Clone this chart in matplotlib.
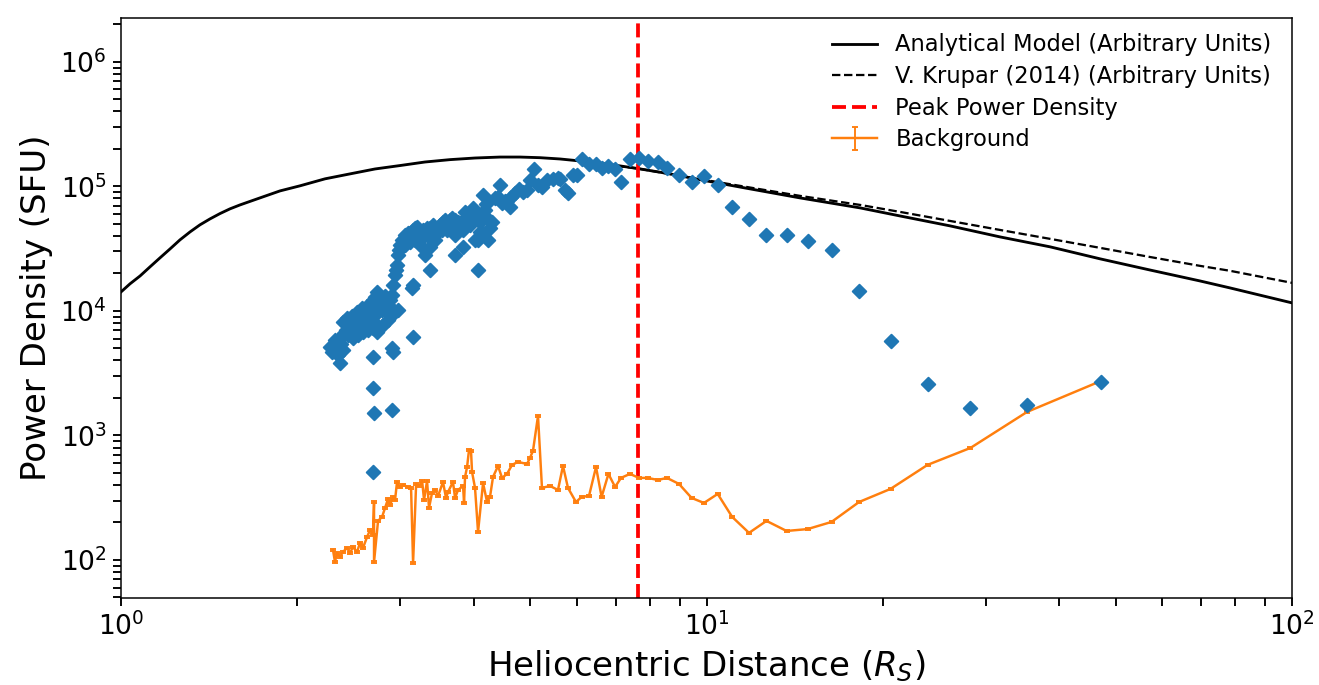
import numpy as np
import matplotlib
matplotlib.use("Agg")
import matplotlib.pyplot as plt
from matplotlib.ticker import LogLocator, NullFormatter

# ---- Analytical model ----
model_r = [1.0, 1.036, 1.078, 1.121, 1.166, 1.213, 1.261, 1.312, 1.364, 1.419, 1.476, 1.535,
           1.597, 1.727, 1.869, 2.021, 2.231, 2.461, 2.716, 2.996, 3.306, 3.648, 4.024, 4.440,
           4.803, 5.195, 5.620, 6.081, 6.842, 7.638, 8.663, 10.0, 11.87, 14.45, 18.29, 21.4,
           26.05, 31.71, 38.62, 47.0, 57.22, 69.65, 78.36, 100.0]
model_p = [1.42e4, 1.65e4, 1.91e4, 2.26e4, 2.67e4, 3.15e4, 3.72e4, 4.31e4, 4.91e4, 5.48e4,
           6.05e4, 6.60e4, 7.10e4, 8.08e4, 9.20e4, 1.01e5, 1.15e5, 1.26e5, 1.38e5, 1.47e5,
           1.57e5, 1.64e5, 1.69e5, 1.72e5, 1.72e5, 1.70e5, 1.66e5, 1.60e5, 1.50e5, 1.39e5,
           1.26e5, 1.107e5, 9.55e4, 8.08e4, 6.72e4, 5.79e4, 4.82e4, 3.93e4, 3.27e4, 2.62e4,
           2.13e4, 1.74e4, 1.53e4, 1.16e4]

# ---- V. Krupar (2014) ----
krupar_r = [6.081, 7.638, 10.0, 14.45, 18.29, 21.4, 26.05, 31.71, 38.62, 47.0, 57.22, 69.65,
            78.36, 100.0]
krupar_p = [1.60e5, 1.39e5, 1.12e5, 8.39e4, 7.10e4, 6.24e4, 5.28e4, 4.47e4, 3.79e4, 3.21e4,
            2.71e4, 2.30e4, 2.10e4, 1.68e4]

# ---- Peak power density position ----
peak_r = 7.64

# ---- Observed burst power density (blue diamonds) ----
obs_r = [47.19, 35.28, 28.24, 23.85, 20.62, 18.22, 16.35, 14.88, 13.70, 12.66, 11.82, 11.06,
         10.45, 9.90, 9.43, 8.975, 8.559, 8.261, 7.93, 7.67, 7.40, 7.145, 6.98, 6.80, 6.62,
         6.476, 6.30, 6.12, 6.0, 5.916, 5.80, 5.731, 5.620, 5.576, 5.467, 5.341, 5.236, 5.155,
         5.074, 4.994, 4.937, 4.860, 4.785, 4.709, 4.636, 4.618, 4.564, 4.529, 4.475, 4.440,
         4.405, 4.353, 4.302, 4.268, 4.235, 4.219, 4.186, 4.153, 4.137, 4.105, 4.072, 4.024,
         3.992, 3.977, 3.946, 3.915, 3.869, 3.839, 3.839, 3.794, 3.764, 3.720, 3.720, 3.720,
         3.676, 3.648, 3.604, 3.576, 3.548, 3.507, 3.467, 3.439, 3.412, 3.372, 3.372, 3.372,
         3.332, 3.306, 3.306, 3.281, 3.242, 3.242, 3.204, 3.179, 3.154, 3.154, 3.141, 3.154,
         3.117, 3.092, 3.055, 3.020, 2.996, 2.973, 2.973, 2.961, 2.938, 2.915, 2.915, 2.904,
         2.904, 2.904, 2.881, 2.858, 2.836, 2.814, 2.792, 2.770, 2.748, 2.737, 2.737, 2.726,
         2.716, 2.705, 2.705, 2.694, 2.694, 2.694, 2.694, 2.684, 2.663, 2.642, 2.621, 2.600,
         2.580, 2.560, 2.540, 2.520, 2.500, 2.481, 2.461, 2.442, 2.423, 2.404, 2.394, 2.375,
         2.366, 2.366, 2.347, 2.338, 2.320, 2.311, 2.293, 2.275,
         2.394, 2.432, 2.481, 2.530, 2.580, 2.632, 2.673, 2.770, 2.825, 2.490, 2.540, 2.590,
         2.642, 2.694, 2.748, 2.803, 2.858, 2.892, 2.915, 2.949, 2.985,
         3.055, 3.117, 3.179, 3.216, 3.268, 3.345, 3.398, 3.480, 3.534,
         3.619, 3.690, 3.884, 3.946, 4.040, 4.105, 4.202, 4.072]
obs_p = [2.7e3, 1.76e3, 1.66e3, 2.59e3, 5.74e3, 1.45e4, 3.09e4, 3.65e4, 4.08e4, 4.08e4,
         5.48e4, 6.84e4, 1.03e5, 1.21e5, 1.09e5, 1.24e5, 1.41e5, 1.57e5, 1.60e5, 1.69e5,
         1.66e5, 1.09e5, 1.38e5, 1.46e5, 1.41e5, 1.52e5, 1.52e5, 1.66e5, 1.24e5, 1.24e5,
         8.87e4, 9.37e4, 1.15e5, 1.17e5, 1.15e5, 1.13e5, 9.91e4, 1.03e5, 1.38e5, 1.13e5,
         9.37e4, 9.03e4, 9.55e4, 8.87e4, 8.24e4, 6.84e4, 7.65e4, 7.65e4, 7.37e4, 1.03e5,
         8.24e4, 8.08e4, 5.19e4, 4.64e4, 3.72e4, 5.58e4, 6.48e4, 8.55e4, 4.31e4, 4.31e4,
         2.13e4, 3.72e4, 6.72e4, 5.69e4, 5.69e4, 5.19e4, 6.24e4, 4.47e4, 3.27e4, 5.09e4,
         5.19e4, 5.38e4, 4.08e4, 2.82e4, 5.58e4, 5.38e4, 4.47e4, 5.38e4, 5.19e4, 4.91e4,
         4.23e4, 3.72e4, 4.91e4, 4.64e4, 3.27e4, 2.13e4, 4.64e4, 4.23e4, 2.82e4, 4.47e4,
         4.31e4, 3.39e4, 4.73e4, 4.64e4, 4.47e4, 1.62e4, 1.53e4, 6.18e3, 4.23e4, 4.23e4,
         4.08e4, 3.72e4, 3.39e4, 2.82e4, 1.02e4, 2.34e4, 1.95e4, 1.62e4, 4.69e3, 1.34e4,
         5.04e3, 1.60e3, 1.23e4, 1.12e4, 1.10e4, 1.18e4, 1.02e4, 1.12e4, 9.82e3, 1.42e4,
         6.78e3, 1.06e4, 1.30e4, 9.29e3, 1.52e3, 1.23e4, 4.27e3, 2.41e3, 509, 1.02e4,
         8.79e3, 9.64e3, 8.47e3, 9.12e3, 7.87e3, 8.79e3, 8.16e3, 7.30e3, 7.87e3, 7.04e3,
         7.58e3, 6.42e3, 7.04e3, 6.66e3, 4.86e3, 5.43e3, 6.07e3, 3.82e3, 4.43e3, 5.04e3,
         5.85e3, 5.33e3, 4.69e3, 5.14e3,
         8.16e3, 8.79e3, 9.12e3, 9.82e3, 1.06e4, 1.10e4, 1.16e4, 1.23e4, 1.32e4, 6.07e3,
         6.42e3, 6.78e3, 7.04e3, 7.30e3, 7.58e3, 7.72e3, 8.47e3, 9.12e3, 1.02e4, 2.13e4,
         3.09e4,
         3.39e4, 3.58e4, 3.72e4, 4.00e4, 3.86e4, 4.00e4, 4.31e4, 4.64e4, 4.47e4,
         4.91e4, 4.64e4, 5.58e4, 4.91e4, 5.90e4, 5.19e4, 7.23e4, 3.72e4]

# ---- Background (orange) ----
bg_r = [2.302, 2.320, 2.338, 2.366, 2.394, 2.432, 2.461, 2.490, 2.530, 2.560, 2.590, 2.632,
        2.663, 2.694, 2.705, 2.705, 2.748, 2.792, 2.825, 2.858, 2.881, 2.915, 2.938, 2.961,
        2.996, 3.032, 3.092, 3.129, 3.154, 3.192, 3.228, 3.268, 3.293, 3.332, 3.358, 3.398,
        3.439, 3.480, 3.548, 3.590, 3.619, 3.690, 3.720, 3.764, 3.839, 3.854, 3.869, 3.900,
        3.930, 3.961, 3.977, 4.024, 4.072, 4.153, 4.219, 4.268, 4.319, 4.405, 4.475, 4.564,
        4.654, 4.764, 4.937, 4.994, 5.054, 5.155, 5.236, 5.403, 5.576, 5.687, 5.800, 5.985,
        6.12, 6.30, 6.476, 6.62, 6.80, 6.98, 7.145, 7.40, 7.67, 7.93, 8.261, 8.559, 8.975,
        9.43, 9.90, 10.45, 11.06, 11.82, 12.66, 13.70, 14.88, 16.35, 18.22, 20.62, 23.85,
        28.24, 35.28, 47.19]
bg_p = [120, 96.4, 114, 106, 116, 125, 114, 127, 116, 137, 125, 153, 174, 159, 292, 96.4,
        206, 222, 262, 309, 277, 321, 303, 423, 386, 400, 386, 379, 94.6, 408, 393, 431, 303,
        431, 262, 345, 365, 327, 423, 315, 352, 423, 315, 365, 393, 287, 464, 558, 765, 751,
        509, 379, 168, 415, 292, 321, 464, 569, 456, 491, 580, 613, 590, 660, 751, 1434, 379,
        393, 365, 569, 379, 292, 321, 327, 558, 321, 491, 386, 456, 491, 456, 456, 439, 456,
        408, 315, 287, 339, 222, 165, 206, 171, 177, 202, 292, 372, 580, 794, 1545, 2740]
bg_rel_err = 0.02

fig = plt.figure(figsize=(1319 / 136, 685 / 136), dpi=136)
ax = fig.add_axes([121 / 1319, 1 - 598 / 685, (1292 - 121) / 1319, (598 - 18) / 685])

ax.plot(model_r, model_p, color="black", lw=1.5, label="Analytical Model (Arbitrary Units)")
ax.plot(krupar_r, krupar_p, color="black", lw=1.2, ls="--", label="V. Krupar (2014) (Arbitrary Units)")
ax.axvline(peak_r, color="red", ls="--", lw=2, label="Peak Power Density")
bg_arr = np.array(bg_p)
ax.errorbar(bg_r, bg_p, yerr=bg_rel_err * bg_arr, color="#ff7f0e", lw=1.3, capsize=1.5,
            elinewidth=1, label="Background")
ax.scatter(obs_r, obs_p, marker="D", s=26, color="#1f77b4", zorder=3)

ax.set_xscale("log")
ax.set_yscale("log")
ax.set_xlim(1, 100)
ax.set_ylim(49.5, 2.25e6)
for axis in (ax.xaxis, ax.yaxis):
    axis.set_major_locator(LogLocator(base=10, numticks=20))
    axis.set_minor_locator(LogLocator(base=10, subs=np.arange(2, 10), numticks=100))
    axis.set_minor_formatter(NullFormatter())
ax.tick_params(axis="both", which="major", labelsize=14, length=4, width=1)
ax.tick_params(axis="both", which="minor", length=4, width=1)
ax.set_xlabel("Heliocentric Distance ($R_S$)", fontsize=18)
ax.set_ylabel("Power Density (SFU)", fontsize=18)
ax.legend(loc="upper right", fontsize=12, frameon=False, labelspacing=0.38,
          bbox_to_anchor=(1.0, 1.0085))

fig.savefig("out.png", dpi=136)
